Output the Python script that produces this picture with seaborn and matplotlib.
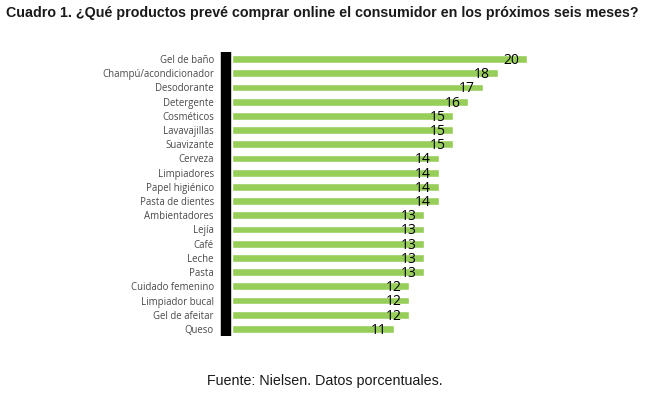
import matplotlib.pyplot as plt
import seaborn as sns
import pandas as pd

# Data
productos = [
    'Gel de baño', 'Champú/acondicionador', 'Desodorante', 'Detergente',
    'Cosméticos', 'Lavavajillas', 'Suavizante', 'Cerveza', 'Limpiadores',
    'Papel higiénico', 'Pasta de dientes', 'Ambientadores', 'Lejía', 'Café',
    'Leche', 'Pasta', 'Cuidado femenino', 'Limpiador bucal', 'Gel de afeitar',
    'Queso'
]
porcentajes = [20, 18, 17, 16, 15, 15, 15, 14, 14, 14, 14, 13, 13, 13, 13, 13,
               12, 12, 12, 11]

df = pd.DataFrame({'Producto': productos, 'Porcentaje': porcentajes})

sns.set_style('white')

fig = plt.figure(figsize=(6.51, 3.97), dpi=100)
ax = fig.add_axes([232 / 651, 1 - 336 / 397, 368.75 / 651, 284 / 397])

sns.barplot(data=df, x='Porcentaje', y='Producto', orient='h', color='#97CE5A',
            width=0.55, saturation=1, ax=ax)

# value labels just inside the bar ends
for i, v in enumerate(df['Porcentaje']):
    ax.text(v - 1.05, i + 0.1, str(v), ha='center', va='center',
            fontsize=10, color='black', family='Open Sans')

ax.set_xlim(0, 25)
ax.set_xlabel('')
ax.set_ylabel('')
ax.set_xticks([])

for s in ['top', 'right', 'bottom']:
    ax.spines[s].set_visible(False)
ax.spines['left'].set_position(('outward', 4))
ax.spines['left'].set_linewidth(7.5)
ax.spines['left'].set_color('black')
ax.spines['left'].set_capstyle('butt')

ax.tick_params(axis='y', length=0, pad=9)
for lbl in ax.get_yticklabels():
    lbl.set_fontsize(6.9)
    lbl.set_color('#4a4a4a')
    lbl.set_family('Open Sans')

fig.text(6 / 651, 1 - 13 / 397,
         'Cuadro 1. ¿Qué productos prevé comprar online el consumidor en los próximos seis meses?',
         ha='left', va='center', fontsize=10.3, fontweight='bold',
         family='Liberation Sans', color='#1a1a1a')
fig.text(325 / 651, 1 - 381 / 397, 'Fuente: Nielsen. Datos porcentuales.',
         ha='center', va='center', fontsize=10.3, family='Liberation Sans',
         color='#1a1a1a')

fig.savefig('out.png', dpi=100)
